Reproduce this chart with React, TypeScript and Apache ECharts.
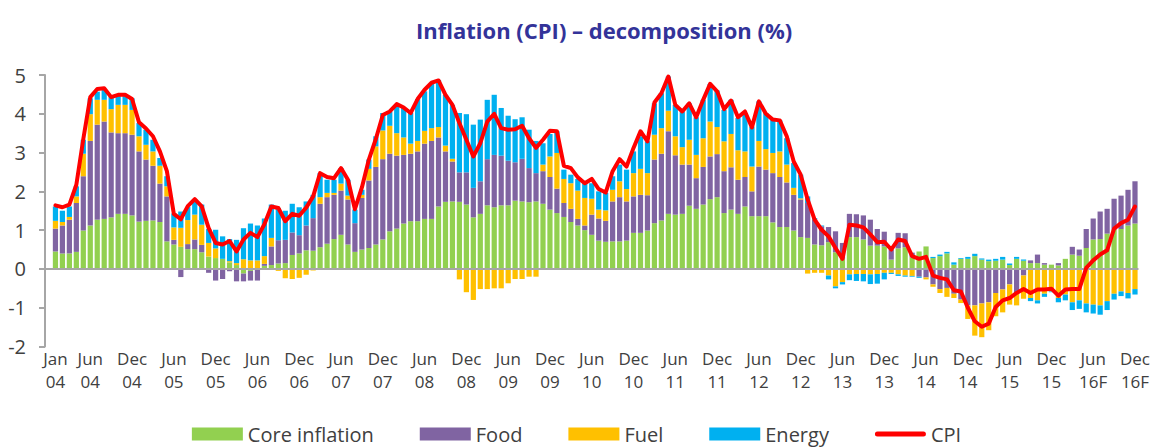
import { useEffect, useRef } from 'react';
import * as echarts from 'echarts';

const MONTHS = ['Jan', 'Feb', 'Mar', 'Apr', 'May', 'Jun', 'Jul', 'Aug', 'Sep', 'Oct', 'Nov', 'Dec'];
const YEARS = ['04', '05', '06', '07', '08', '09', '10', '11', '12', '13', '14', '15', '16F'];

const SERIES_NAMES = ['Core inflation', 'Food', 'Fuel', 'Energy', 'CPI'];
const TITLE = 'Inflation (CPI) \u2013 decomposition (%)';

// contributions, percentage points (monthly, Jan 2004 - Dec 2016)
const CORE = [
  0.45, 0.40, 0.40, 0.44, 0.99, 1.12, 1.27, 1.29, 1.33, 1.42, 1.42, 1.38,
  1.22, 1.24, 1.25, 1.21, 0.71, 0.63, 0.57, 0.51, 0.51, 0.43, 0.32, 0.28,
  0.26, 0.17, 0.10, -0.12, -0.05, 0.02, 0.08, 0.10, 0.14, 0.15, 0.36, 0.40,
  0.48, 0.47, 0.56, 0.65, 0.77, 0.88, 0.63, 0.44, 0.50, 0.54, 0.63, 0.76,
  0.97, 1.04, 1.17, 1.23, 1.23, 1.29, 1.29, 1.61, 1.73, 1.74, 1.73, 1.66,
  1.33, 1.42, 1.64, 1.59, 1.64, 1.64, 1.76, 1.74, 1.72, 1.74, 1.68, 1.53,
  1.44, 1.34, 1.21, 1.12, 1.00, 0.88, 0.73, 0.70, 0.71, 0.71, 0.73, 0.93,
  0.93, 0.99, 1.18, 1.25, 1.42, 1.40, 1.42, 1.63, 1.55, 1.66, 1.80, 1.85,
  1.44, 1.53, 1.42, 1.61, 1.36, 1.36, 1.36, 1.20, 1.08, 1.08, 0.99, 0.82,
  0.80, 0.63, 0.61, 0.69, 0.43, 0.26, 0.82, 0.82, 0.76, 0.60, 0.60, 0.58,
  0.24, 0.53, 0.56, 0.30, 0.45, 0.58, 0.28, 0.33, 0.40, 0.11, 0.26, 0.26,
  0.33, 0.24, 0.20, 0.21, 0.24, 0.10, 0.26, 0.21, 0.15, 0.15, 0.11, 0.11,
  0.09, 0.26, 0.37, 0.34, 0.54, 0.76, 0.77, 0.91, 1.01, 1.03, 1.12, 1.17,
];
const FOOD = [
  0.59, 0.72, 0.87, 1.26, 1.40, 2.18, 2.45, 2.51, 2.19, 2.08, 2.08, 2.08,
  1.81, 1.58, 1.41, 0.99, 1.16, 0.12, -0.21, 0.13, 0.25, 0.19, -0.10, -0.30,
  -0.26, -0.06, -0.32, -0.20, -0.25, -0.30, 0.05, 0.48, 0.60, 0.60, 0.58, 0.47,
  0.64, 0.84, 1.12, 1.20, 1.14, 1.14, 1.16, 0.74, 1.33, 1.74, 2.00, 2.07,
  2.00, 1.88, 1.77, 1.74, 1.80, 1.94, 2.01, 1.78, 1.30, 1.03, 0.76, 0.83,
  0.76, 0.84, 1.19, 1.35, 1.28, 1.15, 0.99, 1.10, 0.88, 0.73, 0.84, 0.84,
  0.63, 0.36, 0.34, 0.17, 0.12, 0.52, 0.57, 0.54, 1.03, 1.14, 1.01, 0.94,
  0.98, 0.91, 1.64, 1.72, 2.13, 1.53, 1.27, 1.06, 0.79, 0.97, 1.10, 1.11,
  1.08, 1.09, 0.88, 0.76, 0.64, 1.28, 1.20, 1.27, 1.29, 1.15, 0.92, 0.97,
  0.90, 0.64, 0.49, 0.39, 0.54, 0.41, 0.60, 0.59, 0.62, 0.67, 0.43, 0.38,
  0.26, 0.40, 0.36, 0.12, -0.20, -0.22, -0.40, -0.52, -0.49, -0.64, -0.79, -0.94,
  -0.94, -0.89, -0.86, -0.62, -0.53, -0.40, -0.62, -0.17, 0.07, 0.22, 0.04, 0.00,
  0.06, 0.00, 0.20, 0.16, 0.49, 0.54, 0.71, 0.64, 0.80, 0.86, 0.92, 1.09,
];
const FUEL = [
  0.20, 0.09, 0.07, 0.17, 0.58, 0.69, 0.64, 0.56, 0.60, 0.73, 0.73, 0.64,
  0.39, 0.38, 0.37, 0.46, 0.26, 0.32, 0.49, 0.62, 0.64, 0.52, 0.35, 0.25,
  0.00, 0.03, 0.05, 0.25, 0.22, 0.20, 0.20, 0.22, -0.05, -0.24, -0.26, -0.23,
  -0.15, -0.04, 0.17, 0.11, 0.05, 0.18, 0.10, 0.00, 0.08, 0.30, 0.53, 0.74,
  0.72, 0.58, 0.45, 0.26, 0.27, 0.33, 0.33, 0.27, 0.15, 0.07, -0.27, -0.60,
  -0.80, -0.52, -0.52, -0.50, -0.50, -0.37, -0.26, -0.26, -0.20, -0.20, 0.17, 0.53,
  0.92, 0.62, 0.66, 0.73, 0.71, 0.41, 0.23, 0.27, 0.30, 0.41, 0.32, 0.60,
  0.67, 0.57, 0.64, 0.66, 0.53, 0.49, 0.45, 0.64, 0.60, 0.74, 0.90, 0.70,
  0.77, 0.86, 0.76, 0.66, 0.64, 0.66, 0.53, 0.52, 0.66, 0.46, 0.18, 0.03,
  -0.12, -0.10, -0.10, -0.17, -0.45, -0.34, -0.14, -0.13, -0.13, -0.14, -0.13, -0.10,
  -0.10, -0.14, -0.17, -0.18, 0.00, -0.05, -0.06, -0.10, -0.23, -0.11, -0.09, -0.35,
  -0.78, -0.87, -0.72, -0.60, -0.59, -0.52, -0.32, -0.60, -0.75, -0.81, -0.64, -0.58,
  -0.75, -0.66, -0.86, -0.81, -0.89, -0.92, -0.94, -0.83, -0.64, -0.58, -0.62, -0.52,
];
const ENERGY = [
  0.37, 0.29, 0.27, 0.26, 0.36, 0.41, 0.21, 0.26, 0.33, 0.26, 0.23, 0.30,
  0.34, 0.39, 0.30, 0.20, 0.26, 0.36, 0.42, 0.34, 0.39, 0.52, 0.36, 0.48,
  0.58, 0.57, 0.60, 0.80, 0.95, 0.90, 0.97, 0.86, 0.83, 0.75, 0.74, 0.72,
  0.62, 0.60, 0.62, 0.34, 0.34, 0.40, 0.41, 0.35, 0.13, 0.24, 0.26, 0.45,
  0.37, 0.75, 0.76, 0.79, 1.08, 1.02, 1.16, 1.21, 1.31, 1.39, 1.53, 1.50,
  1.63, 1.59, 1.53, 1.55, 1.23, 1.16, 1.11, 1.07, 0.99, 0.83, 0.55, 0.58,
  0.56, 0.24, 0.22, 0.30, 0.43, 0.40, 0.47, 0.45, 0.35, 0.43, 0.50, 0.56,
  0.84, 0.82, 0.81, 0.90, 0.88, 0.81, 0.92, 0.94, 0.97, 0.99, 0.97, 0.94,
  0.81, 0.88, 0.83, 0.99, 1.03, 1.02, 0.93, 0.86, 0.80, 0.68, 0.64, 0.61,
  0.17, 0.04, 0.02, -0.10, -0.05, -0.06, -0.15, -0.18, -0.19, -0.25, -0.25, -0.17,
  -0.03, -0.04, -0.03, -0.02, -0.03, 0.00, 0.03, 0.04, 0.04, 0.06, 0.02, 0.05,
  0.06, 0.03, 0.04, 0.05, 0.07, 0.04, 0.05, 0.03, -0.08, -0.08, -0.08, -0.02,
  -0.11, -0.15, -0.20, -0.22, -0.23, -0.23, -0.24, -0.23, -0.15, -0.12, -0.14, -0.14,
];
const CPI = [
  1.64, 1.59, 1.66, 2.17, 3.35, 4.43, 4.64, 4.66, 4.43, 4.49, 4.49, 4.38,
  3.78, 3.62, 3.42, 3.03, 2.52, 1.42, 1.28, 1.62, 1.80, 1.61, 1.05, 0.67,
  0.63, 0.72, 0.45, 0.76, 0.93, 0.82, 1.15, 1.61, 1.57, 1.23, 1.42, 1.37,
  1.58, 1.87, 2.47, 2.37, 2.34, 2.60, 2.30, 1.54, 2.10, 2.82, 3.35, 3.97,
  4.06, 4.25, 4.16, 4.02, 4.38, 4.62, 4.80, 4.86, 4.49, 4.23, 3.76, 3.33,
  2.90, 3.24, 3.80, 4.00, 3.63, 3.59, 3.60, 3.69, 3.37, 3.12, 3.33, 3.56,
  3.55, 2.66, 2.60, 2.36, 2.21, 2.32, 2.06, 1.97, 2.52, 2.83, 2.64, 3.12,
  3.55, 3.29, 4.29, 4.53, 4.96, 4.23, 4.06, 4.27, 3.91, 4.36, 4.77, 4.58,
  4.12, 4.34, 3.91, 4.06, 3.65, 4.32, 4.00, 3.85, 3.83, 3.42, 2.77, 2.43,
  1.79, 1.27, 1.01, 0.84, 0.54, 0.26, 1.14, 1.12, 1.07, 0.89, 0.69, 0.70,
  0.50, 0.76, 0.72, 0.33, 0.26, 0.31, -0.17, -0.23, -0.27, -0.55, -0.58, -1.00,
  -1.35, -1.49, -1.41, -0.98, -0.81, -0.75, -0.62, -0.52, -0.62, -0.53, -0.53, -0.51,
  -0.69, -0.53, -0.52, -0.52, 0.03, 0.22, 0.37, 0.48, 1.04, 1.18, 1.27, 1.61,
];

const COLORS = ['#92d050', '#8064a2', '#ffc000', '#00b0f0', '#ff0000'];

const CATEGORIES: string[] = [];
YEARS.forEach((y) => MONTHS.forEach((m) => CATEGORIES.push(`${m} ${y}`)));

export default function App() {
  const ref = useRef<HTMLDivElement>(null);

  useEffect(() => {
    if (!ref.current) return;
    const chart = echarts.init(ref.current, undefined, { renderer: 'svg' });
    const font = "'Open Sans', 'Noto Sans', sans-serif";
    const textColor = '#404040';
    const axisGrey = '#a6a6a6';

    const barData = [CORE, FOOD, FUEL, ENERGY];
    const bars = barData.map((d, i) => {
      const s: any = {
        name: SERIES_NAMES[i],
        type: 'bar',
        stack: 'total',
        data: d,
        barCategoryGap: '25%',
        itemStyle: { color: COLORS[i] },
        z: 2,
      };
      if (i === 3) {
        s.markLine = {
          silent: true,
          symbol: ['none', 'none'],
          z: 3,
          label: { show: false },
          lineStyle: { color: axisGrey, width: 2, type: 'solid' },
          data: [{ yAxis: 0 }],
        };
      }
      return s;
    });

    // rounded thin bar used as the legend icon of the CPI line
    const lineIcon = 'path://M2.5,0 L48.5,0 A2.5,2.5 0 0 1 48.5,5 L2.5,5 A2.5,2.5 0 0 1 2.5,0 Z';

    chart.setOption({
      animation: false,
      backgroundColor: '#ffffff',
      title: {
        text: TITLE,
        left: 411,
        top: 14,
        textStyle: { fontFamily: font, fontSize: 22, fontWeight: 'bold', color: '#333399' },
      },
      legend: {
        left: 'center',
        top: 419,
        itemWidth: 51,
        itemHeight: 13,
        itemGap: 46,
        symbolKeepAspect: true,
        textStyle: { fontFamily: font, fontSize: 20, color: textColor },
        data: [
          { name: SERIES_NAMES[0], icon: 'rect' },
          { name: SERIES_NAMES[1], icon: 'rect' },
          { name: SERIES_NAMES[2], icon: 'rect' },
          { name: SERIES_NAMES[3], icon: 'rect' },
          { name: SERIES_NAMES[4], icon: lineIcon, itemStyle: { color: COLORS[4], borderWidth: 0 } },
        ],
      },
      grid: { left: 45, right: 14, top: 75, bottom: 101.5, containLabel: false },
      xAxis: {
        type: 'category',
        data: CATEGORIES,
        min: -1,
        boundaryGap: true,
        axisLine: { show: false, onZero: false },
        axisTick: { show: false },
        splitLine: { show: false },
        axisLabel: {
          interval: (index: number) => index === 0 || index % 12 === 5 || index % 12 === 11,
          formatter: (v: string) => (v ? v.replace(' ', '\n') : ''),
          fontFamily: font,
          fontSize: 17,
          lineHeight: 23,
          color: textColor,
          margin: 0,
        },
      },
      yAxis: {
        type: 'value',
        min: -2,
        max: 5,
        interval: 1,
        axisLine: { show: true, lineStyle: { color: axisGrey, width: 2 } },
        axisTick: { show: true, length: 6, lineStyle: { color: axisGrey, width: 2 } },
        splitLine: { show: false },
        axisLabel: { fontFamily: font, fontSize: 20, color: textColor, margin: 19 },
      },
      series: [
        ...bars,
        {
          name: SERIES_NAMES[4],
          type: 'line',
          data: CPI,
          symbol: 'none',
          showSymbol: false,
          z: 4,
          itemStyle: { color: COLORS[4] },
          lineStyle: { color: COLORS[4], width: 4, cap: 'round', join: 'round' },
        },
      ],
    });

    return () => chart.dispose();
  }, []);

  return (
    <div
      ref={ref}
      style={{ position: 'fixed', left: 0, top: 0, width: 1153, height: 448, background: '#ffffff' }}
    />
  );
}
